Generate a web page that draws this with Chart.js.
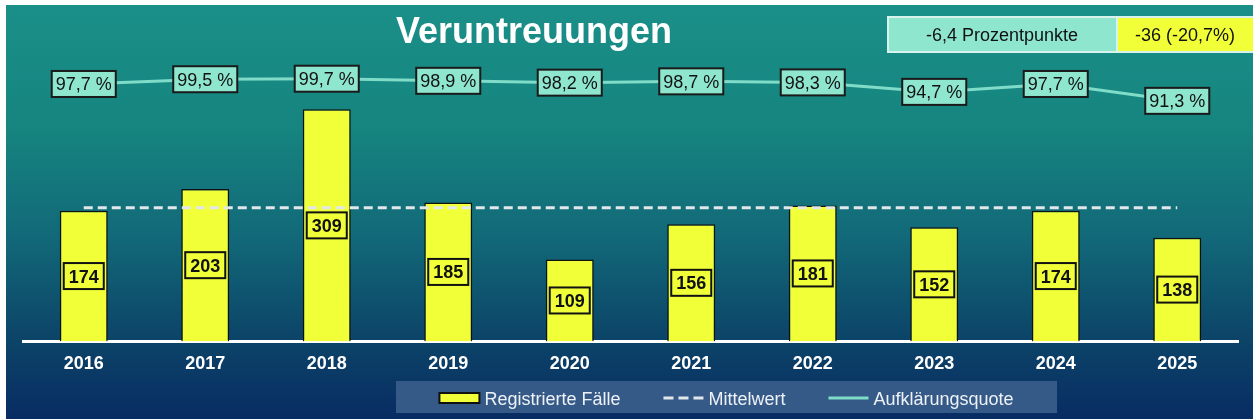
<!DOCTYPE html>
<html>
<head>
<meta charset="utf-8">
<script src="https://cdn.jsdelivr.net/npm/chart.js@4/dist/chart.umd.min.js"></script>
<style>
  html, body { margin: 0; padding: 0; background: #fff; }
  #wrap { position: relative; width: 1253px; height: 419px; }
</style>
</head>
<body>
<div id="wrap"><canvas id="chart"></canvas></div>
<script>
// data
const jahre = ['2016', '2017', '2018', '2019', '2020', '2021', '2022', '2023', '2024', '2025'];
const faelle = [174, 203, 309, 185, 109, 156, 181, 152, 174, 138];
const quote = [97.7, 99.5, 99.7, 98.9, 98.2, 98.7, 98.3, 94.7, 97.7, 91.3];
const mittelwert = 178.1;
const titel = 'Veruntreuungen';
const vergleichQuote = '-6,4 Prozentpunkte';
const vergleichFaelle = '-36 (-20,7%)';
const legendeText = ['Registrierte Fälle', 'Mittelwert', 'Aufklärungsquote'];

const GELB = '#f0ff38';
const AQUA = '#8ee6cf';
const LINIE = '#7fdcc8';
const FONT = '"Liberation Sans", Arial, sans-serif';

// number formatting with german comma
const fmt = (v) => v.toFixed(1).replace('.', ',') + ' %';

function textBox(ctx, text, cx, cy, font, size, fill, stroke, lw, padX, h) {
  ctx.font = font;
  const w = ctx.measureText(text).width + padX * 2;
  ctx.fillStyle = fill;
  ctx.fillRect(cx - w / 2, cy - h / 2, w, h);
  ctx.strokeStyle = stroke;
  ctx.lineWidth = lw;
  ctx.strokeRect(cx - w / 2, cy - h / 2, w, h);
  ctx.fillStyle = '#111';
  ctx.textAlign = 'center';
  ctx.textBaseline = 'alphabetic';
  ctx.fillText(text, cx, cy + size * 0.716 / 2);
}

// background gradient with the white edge
const hintergrund = {
  id: 'hintergrund',
  beforeDraw(chart) {
    const { ctx, width, height } = chart;
    ctx.save();
    ctx.fillStyle = '#fff';
    ctx.fillRect(0, 0, width, height);
    const g = ctx.createLinearGradient(0, 5, 0, height);
    g.addColorStop(0, '#1a8f88');
    g.addColorStop(0.3, '#16847f');
    g.addColorStop(0.55, '#126a79');
    g.addColorStop(0.8, '#0c4568');
    g.addColorStop(1, '#082c63');
    ctx.fillStyle = g;
    ctx.fillRect(6, 5, width - 6, height - 5);
    ctx.restore();
  }
};

// value boxes, title, comparison boxes and legend
const beschriftung = {
  id: 'beschriftung',
  afterDatasetsDraw(chart) {
    const ctx = chart.ctx;
    ctx.save();

    const bars = chart.getDatasetMeta(2).data;
    bars.forEach((bar, i) => {
      const cy = (bar.y + bar.base) / 2;
      textBox(ctx, String(faelle[i]), bar.x, cy, 'bold 18px ' + FONT, 18, GELB, '#111', 2, 5, 26);
    });

    const pts = chart.getDatasetMeta(0).data;
    pts.forEach((p, i) => {
      textBox(ctx, fmt(quote[i]), p.x, p.y, '18px ' + FONT, 18, AQUA, '#1a1a1a', 2, 4, 26);
    });

    // title
    ctx.font = 'bold 36px ' + FONT;
    ctx.fillStyle = '#fff';
    ctx.textAlign = 'center';
    ctx.textBaseline = 'alphabetic';
    ctx.fillText(titel, 534, 43);

    // comparison boxes top right
    ctx.lineWidth = 2;
    ctx.strokeStyle = '#d8f2ec';
    ctx.fillStyle = AQUA;
    ctx.fillRect(888, 17, 229, 35);
    ctx.strokeRect(888, 17, 229, 35);
    ctx.fillStyle = GELB;
    ctx.fillRect(1117, 17, 140, 35);
    ctx.strokeRect(1117, 17, 140, 35);
    ctx.font = '18px ' + FONT;
    ctx.fillStyle = '#111';
    ctx.fillText(vergleichQuote, 1002, 41);
    ctx.fillText(vergleichFaelle, 1185, 41);

    // legend
    ctx.fillStyle = '#355a88';
    ctx.fillRect(396, 381, 661, 32);
    ctx.font = '18px ' + FONT;
    const sw = 40, gapText = 5, gapItem = 43, ly = 398;
    const widths = legendeText.map(t => ctx.measureText(t).width);
    const total = widths.reduce((a, w) => a + w + sw + gapText, 0) + gapItem * 2;
    let x = 726.5 - total / 2;
    ctx.textAlign = 'left';
    legendeText.forEach((t, i) => {
      if (i === 0) {
        ctx.fillStyle = GELB;
        ctx.fillRect(x, ly - 5, sw, 10);
        ctx.strokeStyle = '#111';
        ctx.lineWidth = 2;
        ctx.strokeRect(x, ly - 5, sw, 10);
      } else {
        ctx.beginPath();
        ctx.lineWidth = 3;
        ctx.strokeStyle = i === 1 ? '#e2e8ea' : LINIE;
        ctx.setLineDash(i === 1 ? [10, 5] : []);
        ctx.moveTo(x, ly);
        ctx.lineTo(x + sw, ly);
        ctx.stroke();
        ctx.setLineDash([]);
      }
      x += sw + gapText;
      ctx.fillStyle = '#eef2f7';
      ctx.fillText(t, x, ly + 6.5);
      x += widths[i] + gapItem;
    });

    ctx.restore();
  }
};

new Chart(document.getElementById('chart'), {
  data: {
    labels: jahre,
    datasets: [
      {
        type: 'line',
        label: legendeText[2],
        data: quote,
        yAxisID: 'y2',
        borderColor: LINIE,
        borderWidth: 3,
        pointRadius: 0,
        tension: 0,
        order: 0
      },
      {
        type: 'line',
        label: legendeText[1],
        data: jahre.map(() => mittelwert),
        yAxisID: 'y',
        borderColor: '#e2e8ea',
        borderWidth: 3,
        borderDash: [9, 5],
        pointRadius: 0,
        order: 1
      },
      {
        type: 'bar',
        label: legendeText[0],
        data: faelle,
        yAxisID: 'y',
        backgroundColor: GELB,
        borderColor: '#111',
        borderWidth: 1.5,
        barPercentage: 0.395,
        categoryPercentage: 1,
        order: 2
      }
    ]
  },
  options: {
    responsive: true,
    maintainAspectRatio: false,
    animation: false,
    devicePixelRatio: 1,
    layout: { padding: { left: 23, right: 15, top: 60, bottom: 32 } },
    plugins: {
      legend: { display: false },
      title: { display: false },
      tooltip: { enabled: false }
    },
    scales: {
      x: {
        grid: { display: false, drawTicks: false },
        border: { color: '#ffffff', width: 3 },
        ticks: { color: '#ffffff', padding: 12, font: { family: FONT, weight: 'bold', size: 18 } }
      },
      y: { display: false, min: 0, max: 374.7 },
      y2: { display: false, min: 0, max: 106.8 }
    }
  },
  plugins: [hintergrund, beschriftung]
});
</script>
</body>
</html>
